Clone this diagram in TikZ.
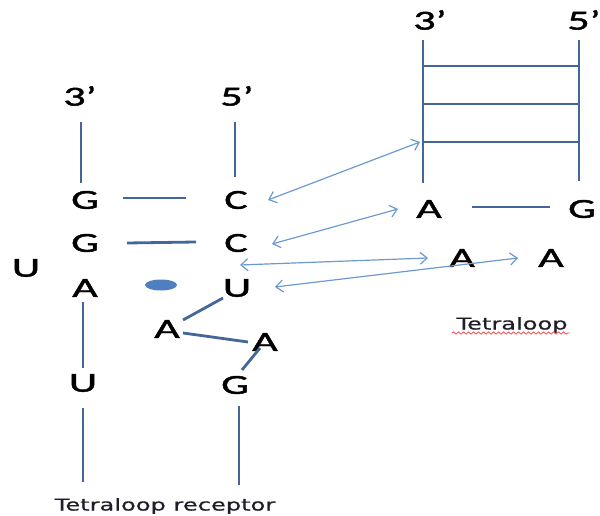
\documentclass[tikz,border=0pt]{standalone}
\usepackage{fontspec}
\usetikzlibrary{arrows.meta,decorations.pathmorphing,shapes.geometric}
\newfontfamily\basefont[FakeStretch=1.6,FakeBold=1.6]{Carlito}
\newfontfamily\labfont[FakeStretch=1.47,FakeBold=0.6]{DejaVu Sans}
\definecolor{bondblue}{HTML}{44679A}
\definecolor{arrowblue}{HTML}{6E9AD0}
\definecolor{ovalblue}{HTML}{4F7FC0}
\definecolor{labtext}{HTML}{1E1E28}
\begin{document}
\begin{tikzpicture}[x=1pt,y=-1pt,
  base/.style={font=\basefont\fontsize{27.5}{27.5}\selectfont, inner sep=0pt, text=black},
  lab/.style={font=\labfont\fontsize{16.4}{16.4}\selectfont, inner sep=0pt, text=labtext},
  bond/.style={draw=bondblue, line width=2.8pt},
  link/.style={draw=arrowblue, line width=1.2pt, {Straight Barb[length=7pt,width=12pt]}-{Straight Barb[length=7pt,width=12pt]}},
  squig/.style={draw=red!65, line width=0.9pt, decorate, decoration={snake, segment length=5pt, amplitude=1.1pt}}]
\fill[white] (0,0) rectangle (600,516);
\useasboundingbox (0,0) rectangle (600,516);

% ---- left structure (tetraloop receptor) ----
\node[base] (l3) at (80,96) {3’};
\node[base] (l5) at (237,96) {5’};
\node[base] (g1) at (85,200) {G};
\node[base] (c1) at (236,200) {C};
\node[base] (g2) at (85,243) {G};
\node[base] (c2) at (236,243) {C};
\node[base] (uL) at (26,268) {U};
\node[base] (a1) at (85,288) {A};
\node[base] (u1) at (237,288) {U};
\node[fill=ovalblue, ellipse, minimum width=32pt, minimum height=11pt, inner sep=0pt] (dot) at (161,285) {};
\node[base] (a2) at (167,329) {A};
\node[base] (a3) at (265,342) {A};
\node[base] (u2) at (83,383) {U};
\node[base] (g3) at (235,385) {G};
\node[lab] (rec) at (165,506) {Tetraloop receptor};

\draw[bond] ([shift={(1,26)}]l3.center) -- ([shift={(-4,-17)}]g1.center);
\draw[bond] ([shift={(-2,26)}]l5.center) -- ([shift={(-1,-23)}]c1.center);
\draw[bond] ([shift={(38,-2)}]g1.center) -- ([shift={(-50,-2)}]c1.center);
\draw[bond] ([shift={(42,0)}]g2.center) -- ([shift={(-40,-1)}]c2.center);
\draw[bond] ([shift={(-2,14)}]a1.center) -- ([shift={(0,-15)}]u2.center);
\draw[bond] ([shift={(0,25)}]u2.center) -- ([shift={(0,99)}]u2.center);
\draw[bond] ([shift={(4,21)}]g3.center) -- ([shift={(4,100)}]g3.center);
\draw[bond] ([shift={(-14,10)}]u1.center) -- ([shift={(16,-9)}]a2.center);
\draw[bond] ([shift={(16,4)}]a2.center) -- ([shift={(-17,0)}]a3.center);
\draw[bond] ([shift={(-5,6)}]a3.center) -- ([shift={(7,-15)}]g3.center);

% ---- right structure (tetraloop) ----
\node[base] (r3) at (430,20) {3’};
\node[base] (r5) at (584,20) {5’};
\node[base] (ra) at (429,209) {A};
\node[base] (rg) at (582,209) {G};
\node[base] (ra2) at (462,258) {A};
\node[base] (ra3) at (551,258) {A};
\node[lab] (tl) at (512,325) {Tetraloop};

\coordinate (sL1) at (423,40);
\coordinate (sL2) at (423,183);
\coordinate (sR1) at (579,40);
\coordinate (sR2) at (579,181);
\coordinate (rung1L) at (423,66);  \coordinate (rung1R) at (579,66);
\coordinate (rung2L) at (423,104); \coordinate (rung2R) at (579,104);
\coordinate (rung3L) at (423,142); \coordinate (rung3R) at (579,142);
\draw[bond] (sL1) -- (sL2);
\draw[bond] (sR1) -- (sR2);
\draw[bond] (rung1L) -- (rung1R);
\draw[bond] (rung2L) -- (rung2R);
\draw[bond] (rung3L) -- (rung3R);
\draw[bond] ([shift={(43,-2)}]ra.center) -- ([shift={(-32,-2)}]rg.center);

\draw[squig] ([shift={(-60,8)}]tl.center) -- ([shift={(58,8)}]tl.center);

% ---- interaction arrows ----
\draw[link] ([shift={(32,0)}]c1.center) -- ([shift={(-3,0)}]rung3L);
\draw[link] ([shift={(36,1)}]c2.center) -- ([shift={(-31,0)}]ra.center);
\draw[link] ([shift={(3,-23)}]u1.center) -- ([shift={(-34,0)}]ra2.center);
\draw[link] ([shift={(38,-1)}]u1.center) -- ([shift={(-33,0)}]ra3.center);
\end{tikzpicture}
\end{document}
